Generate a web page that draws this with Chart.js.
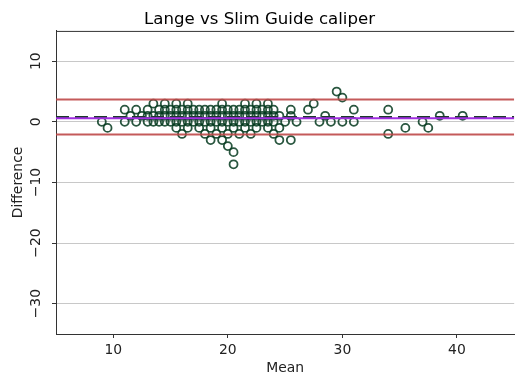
<!DOCTYPE html>
<html>
<head>
<meta charset="utf-8">
<script src="https://cdn.jsdelivr.net/npm/chart.js@4.4.1/dist/chart.umd.min.js"></script>
<style>
  html, body { margin: 0; padding: 0; overflow: hidden; background: #fff; }
  #wrap { width: 520px; height: 378px; }
</style>
</head>
<body>
<div id="wrap"><canvas id="baChart" width="520" height="378"></canvas></div>
<script>
// Bland-Altman data: each row is one difference value with the means that have it
const rowDiffs = [5, 4, 3, 2, 1, 0, -1, -2, -3, -4, -5, -7];
const rowMeans = [
  [29.5],
  [30],
  [13.5, 14.5, 15.5, 16.5, 19.5, 21.5, 22.5, 23.5, 27.5],
  [11, 12, 13, 14, 14.5, 15, 15.5, 16, 16.5, 17, 17.5, 18, 18.5, 19, 19.5, 20, 20.5, 21, 21.5, 22, 22.5, 23, 23.5, 24, 25.5, 27, 31, 34],
  [11.5, 12.5, 13, 13.5, 14, 14.5, 15, 15.5, 16, 16.5, 17, 17.5, 18, 18.5, 19, 19.5, 20, 20.5, 21, 21.5, 22, 22.5, 23, 23.5, 24, 24.5, 25.5, 28.5, 38.5, 40.5],
  [9, 11, 12, 13, 13.5, 14, 14.5, 15, 15.5, 16, 16.5, 17, 17.5, 18, 18.5, 19, 19.5, 20, 20.5, 21, 21.5, 22, 22.5, 23, 23.5, 24, 25, 26, 28, 29, 30, 31, 37],
  [9.5, 15.5, 16.5, 17.5, 18.5, 19.5, 20.5, 21.5, 22.5, 23.5, 24.5, 35.5, 37.5],
  [16, 18, 19, 20, 21, 22, 24, 34],
  [18.5, 19.5, 24.5, 25.5],
  [20],
  [20.5],
  [20.5]
];

const upperLimit = 3.7;
const meanDiff = 0.78;
const purpleLevel = 0.58;
const lowerLimit = -2.1;

const xRange = [5, 45];
const yRange = [-35, 15];
const xTicks = [10, 20, 30, 40];
const yTicks = [-30, -20, -10, 0, 10];

const points = [];
rowDiffs.forEach((d, i) => {
  rowMeans[i].forEach(m => points.push({ x: m, y: d }));
});

function hline(level, color, width, dash) {
  return {
    data: [{ x: xRange[0], y: level }, { x: xRange[1], y: level }],
    showLine: true,
    borderColor: color,
    borderWidth: width,
    borderDash: dash,
    pointRadius: 0,
    order: 0
  };
}

const font = { family: 'DejaVu Sans', size: 13.9 };

// matplotlib style top spine
const frameTop = {
  id: 'frameTop',
  afterDraw(chart) {
    const { ctx, chartArea } = chart;
    ctx.save();
    ctx.strokeStyle = '#333';
    ctx.lineWidth = 1;
    ctx.beginPath();
    ctx.moveTo(chartArea.left, chartArea.top + 0.5);
    ctx.lineTo(chartArea.right, chartArea.top + 0.5);
    ctx.stroke();
    ctx.restore();
  }
};

const ctx = document.getElementById('baChart').getContext('2d');
new Chart(ctx, {
  type: 'scatter',
  data: {
    datasets: [
      {
        data: points,
        pointRadius: 4,
        pointBorderWidth: 1.8,
        borderColor: 'rgba(5,58,30,0.85)',
        backgroundColor: 'rgba(255,255,255,0)',
        order: 1
      },
      hline(upperLimit, 'rgba(190,72,72,0.9)', 2, []),
      hline(lowerLimit, 'rgba(190,72,72,0.9)', 2, []),
      hline(purpleLevel, '#a02ee0', 2, []),
      hline(meanDiff, '#1c3a2c', 2, [13, 6])
    ]
  },
  options: {
    responsive: false,
    animation: false,
    layout: { padding: { left: 0, right: 1, top: 0, bottom: 0 } },
    plugins: {
      legend: { display: false },
      tooltip: { enabled: false },
      title: {
        display: true,
        text: 'Lange vs Slim Guide caliper',
        color: '#000',
        font: { family: 'DejaVu Sans', size: 16.6, weight: 'normal', lineHeight: 1.2 },
        padding: { top: 10, bottom: 1 }
      }
    },
    scales: {
      x: {
        type: 'linear',
        min: xRange[0],
        max: xRange[1],
        afterBuildTicks: s => { s.ticks = xTicks.map(v => ({ value: v })); },
        afterFit: s => { s.height = 44; },
        grid: { drawOnChartArea: false, tickLength: 4, tickColor: '#333' },
        border: { color: '#333', width: 1 },
        ticks: { font, color: '#222', padding: 4 },
        title: { display: true, text: 'Mean', font, color: '#222', padding: { top: 0, bottom: 1 } }
      },
      y: {
        type: 'linear',
        min: yRange[0],
        max: yRange[1],
        afterBuildTicks: s => { s.ticks = yTicks.map(v => ({ value: v })); },
        afterFit: s => { s.width = 56; },
        grid: { color: '#c8c8c8', lineWidth: 1, tickLength: 4, tickColor: '#333' },
        border: { color: '#333', width: 1 },
        ticks: {
          font, color: '#222', padding: 1,
          minRotation: 90, maxRotation: 90, crossAlign: 'center',
          callback: v => String(v).replace('-', '\u2212')
        },
        title: { display: true, text: 'Difference', font, color: '#222', padding: { top: 10.5, bottom: 0 } }
      }
    }
  },
  plugins: [frameTop]
});
</script>
</body>
</html>
